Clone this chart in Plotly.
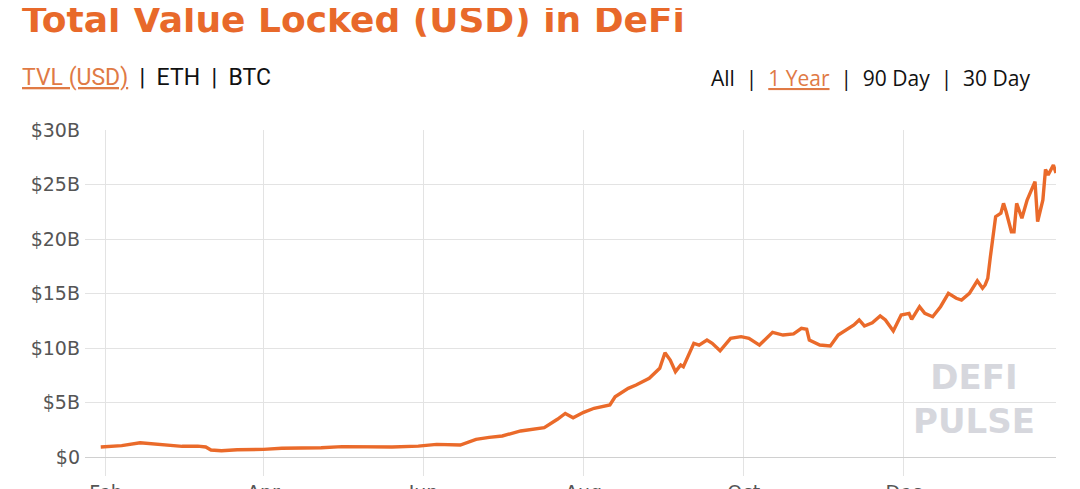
import plotly.graph_objects as go

# ---- data ----
dates = [
    "2020-01-30", "2020-02-07", "2020-02-14", "2020-02-18", "2020-02-24", "2020-03-01",
    "2020-03-07", "2020-03-10", "2020-03-12", "2020-03-16", "2020-03-22", "2020-04-01",
    "2020-04-08", "2020-04-17", "2020-04-23", "2020-05-01", "2020-05-11", "2020-05-20",
    "2020-05-30", "2020-06-06", "2020-06-15", "2020-06-21", "2020-06-26", "2020-07-01",
    "2020-07-08", "2020-07-17", "2020-07-22", "2020-07-25", "2020-07-28", "2020-08-01",
    "2020-08-05", "2020-08-11", "2020-08-13", "2020-08-18", "2020-08-21", "2020-08-26",
    "2020-08-30", "2020-09-01", "2020-09-03", "2020-09-05", "2020-09-07", "2020-09-08",
    "2020-09-12", "2020-09-14", "2020-09-17", "2020-09-19", "2020-09-22", "2020-09-26",
    "2020-09-30", "2020-10-03", "2020-10-07", "2020-10-12", "2020-10-16", "2020-10-20",
    "2020-10-23", "2020-10-25", "2020-10-26", "2020-10-30", "2020-11-03", "2020-11-06",
    "2020-11-12", "2020-11-14", "2020-11-16", "2020-11-19", "2020-11-22", "2020-11-24",
    "2020-11-27", "2020-11-30", "2020-12-03", "2020-12-04", "2020-12-07", "2020-12-09",
    "2020-12-12", "2020-12-15", "2020-12-18", "2020-12-21", "2020-12-23", "2020-12-26",
    "2020-12-29", "2020-12-31", "2021-01-01", "2021-01-02", "2021-01-03", "2021-01-04",
    "2021-01-05", "2021-01-07", "2021-01-08", "2021-01-09", "2021-01-11", "2021-01-12",
    "2021-01-13", "2021-01-15", "2021-01-17", "2021-01-20", "2021-01-21", "2021-01-23",
    "2021-01-24", "2021-01-25", "2021-01-27", "2021-01-28",
]
tvl_billions = [
    0.92, 1.04, 1.31, 1.22, 1.16, 0.98,
    1.00, 0.92, 0.64, 0.58, 0.67, 0.70,
    0.80, 0.80, 0.85, 0.95, 0.90, 0.92,
    1.00, 1.16, 1.10, 1.62, 1.80, 1.93,
    2.39, 2.69, 3.46, 4.00, 3.60, 4.10,
    4.47, 4.77, 5.53, 6.30, 6.60, 7.22,
    8.14, 9.57, 8.90, 7.83, 8.44, 8.28,
    10.43, 10.27, 10.73, 10.43, 9.75, 10.89,
    11.04, 10.89, 10.27, 11.44, 11.19, 11.30,
    11.80, 11.72, 10.73, 10.27, 10.18, 11.19,
    12.11, 12.57, 12.02, 12.32, 12.94, 12.57,
    11.56, 13.03, 13.18, 12.63, 13.79, 13.18,
    12.87, 13.79, 15.02, 14.56, 14.40, 15.02,
    16.17, 15.48, 15.78, 16.39, 18.38, 20.21,
    22.05, 22.36, 23.27, 22.50, 20.67, 20.67,
    23.27, 21.90, 23.58, 25.26, 21.59, 23.58,
    26.39, 25.87, 26.79, 26.06,
]
y_tick_values = [0, 5, 10, 15, 20, 25, 30]
y_tick_labels = ["$0", "$5B", "$10B", "$15B", "$20B", "$25B", "$30B"]

ORANGE = "#EA6A2A"
GRID = "#E3E3E3"

fig = go.Figure()
fig.add_trace(go.Scatter(
    x=dates, y=tvl_billions, mode="lines",
    line=dict(color=ORANGE, width=3.4), hoverinfo="skip", showlegend=False,
))

# The page body has an 8px margin, so the figure starts at (8, 8) on screen.
OFF = 8
W, H = 1080 - OFF, 489 - OFF
# plot area in screen pixels: x 85..1056, y 130..457
L, R, T, B = 85, 1056, 130, 457

def px(xp):
    return (xp - L) / (R - L)

def py(yp):
    return (B - yp) / (B - T)

fig.update_layout(
    width=W, height=H,
    margin=dict(l=L - OFF, r=(W + OFF) - R, t=T - OFF, b=(H + OFF) - B, autoexpand=False),
    paper_bgcolor="white", plot_bgcolor="white",
    font=dict(family="DejaVu Sans, Arial, sans-serif", color="#555555"),
    xaxis=dict(
        type="date", automargin=False,
        range=["2020-01-24", "2021-01-28"],
        tick0="2020-02-01", dtick="M2", tickformat="%b",
        showgrid=True, gridcolor=GRID, gridwidth=1,
        ticks="outside", ticklen=18, tickcolor=GRID,
        tickfont=dict(family="DejaVu Sans", size=19, color="#555555"),
        showline=False, zeroline=False, fixedrange=True,
    ),
    yaxis=dict(
        range=[0, 30], automargin=False,
        tickvals=y_tick_values, ticktext=y_tick_labels,
        showgrid=True, gridcolor=GRID, gridwidth=1,
        zeroline=True, zerolinecolor="#D0D0D0", zerolinewidth=1,
        tickfont=dict(family="DejaVu Sans", size=19, color="#555555"),
        ticks="", ticklabelstandoff=4, fixedrange=True,
    ),
)

annotations = [
    dict(text="<b>Total Value Locked (USD) in DeFi</b>",
         x=px(20), y=py(19), xanchor="left", yanchor="middle",
         font=dict(family="DejaVu Sans", size=36, color="#E8692A")),
    dict(text="<u>TVL (USD)</u><span style='color:#111111'>  |  ETH  |  BTC</span>",
         x=px(20), y=py(78), xanchor="left", yanchor="middle",
         font=dict(family="Roboto", size=23, color="#E07A45")),
    dict(text="All  |  <span style='color:#E07A45'><u>1 Year</u></span>  |  90 Day  |  30 Day",
         x=px(1032), y=py(78), xanchor="right", yanchor="middle",
         font=dict(family="Open Sans", size=21, color="#111111")),
    dict(text="<b>DEFI<br>PULSE</b>", x=px(974), y=py(399), xanchor="center", yanchor="middle",
         font=dict(family="DejaVu Sans", size=34, color="#D6D7DD")),
]
for a in annotations:
    a.update(xref="paper", yref="paper", showarrow=False)
fig.update_layout(annotations=annotations)

fig.write_html("out.html")
